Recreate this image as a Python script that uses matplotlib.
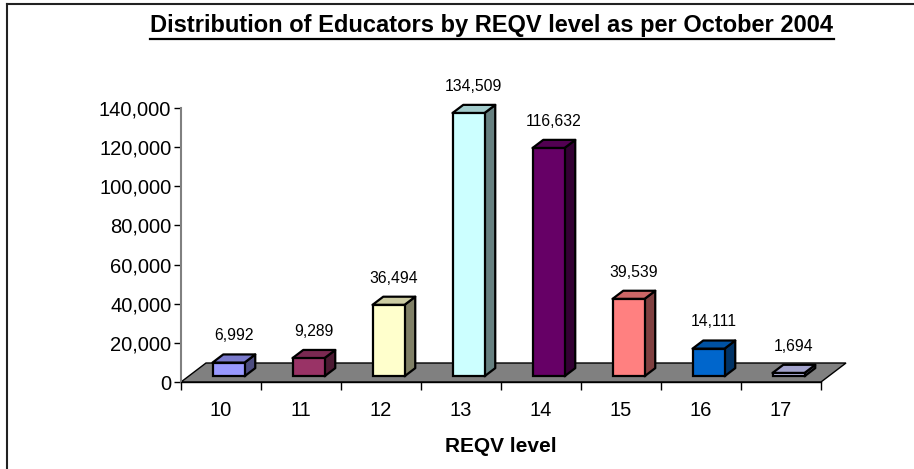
import numpy as np
import matplotlib
matplotlib.use("Agg")
import matplotlib.pyplot as plt
from matplotlib.patches import Polygon
from matplotlib.lines import Line2D
from matplotlib.ticker import FuncFormatter

# data
levels = ["10", "11", "12", "13", "14", "15", "16", "17"]
educators = [6992, 9289, 36494, 134509, 116632, 39539, 14111, 1694]
front_colors = ["#9999FF", "#993366", "#FFFFCC", "#CCFFFF",
                "#660066", "#FF8080", "#0066CC", "#CCCCFF"]

plt.rcParams['font.family'] = ['Liberation Sans', 'DejaVu Sans']

W, H = 914, 469
fig = plt.figure(figsize=(W / 100, H / 100), dpi=100)

# plot area in pixels (front plane of the 3d box)
left_px, right_px, top_px, bottom_px = 181, 821, 108, 382
ax = fig.add_axes([left_px / W, 1 - bottom_px / H,
                   (right_px - left_px) / W, (bottom_px - top_px) / H])
ymax = 140000
n = len(levels)
ax.set_xlim(0, n)
ax.set_ylim(0, ymax)

# depth of the floor, in pixels, turned into data units
depth_x_px, depth_y_px = 25, 19
DX = depth_x_px / ((right_px - left_px) / n)
DY = depth_y_px * ymax / (bottom_px - top_px)


def proj(x, v, d):
    return (x + d * DX, v + d * DY)


def shade(c, f):
    r, g, b = matplotlib.colors.to_rgb(c)
    return (r * f, g * f, b * f)


# floor
floor = Polygon([proj(0, 0, 0), proj(n, 0, 0), proj(n, 0, 1), proj(0, 0, 1)],
                closed=True, facecolor="#808080", edgecolor="black",
                lw=1, clip_on=False, zorder=1)
ax.add_patch(floor)

d0, d1 = 0.30, 0.73   # front / back depth of the bars
bw = 0.4
x_idx = np.arange(n)
ax.bar(x_idx + 0.5 - bw / 2 + d0 * DX, educators, width=bw, bottom=d0 * DY,
       align="edge", color=front_colors, edgecolor="black", lw=1.6,
       zorder=3, clip_on=False)

for i, (v, c) in enumerate(zip(educators, front_colors)):
    x0, x1 = i + 0.5 - bw / 2, i + 0.5 + bw / 2
    top = Polygon([proj(x0, v, d0), proj(x1, v, d0), proj(x1, v, d1), proj(x0, v, d1)],
                  closed=True, facecolor=shade(c, 0.8), edgecolor="black",
                  lw=1.6, joinstyle="round", clip_on=False, zorder=2)
    side = Polygon([proj(x1, 0, d0), proj(x1, v, d0), proj(x1, v, d1), proj(x1, 0, d1)],
                   closed=True, facecolor=shade(c, 0.5), edgecolor="black",
                   lw=1.6, joinstyle="round", clip_on=False, zorder=2)
    ax.add_patch(side)
    ax.add_patch(top)
    ax.annotate(f"{v:,}", xy=(i + 0.5 + (d0 + d1) / 2 * DX, v + d1 * DY),
                xytext=(0, 8), textcoords="offset points",
                ha="center", va="bottom", fontsize=11.3,
                annotation_clip=False)

# axes styling
for s in ["top", "right"]:
    ax.spines[s].set_visible(False)
ax.spines["left"].set_color("#808080")
ax.spines["left"].set_linewidth(1.5)
ax.spines["bottom"].set_color("black")
ax.spines["bottom"].set_linewidth(1)
ax.set_facecolor("none")

ax.set_yticks(np.arange(0, ymax + 1, 20000))
ax.yaxis.set_major_formatter(FuncFormatter(lambda v, p: f"{v:,.0f}"))
ax.tick_params(axis="y", direction="out", length=5, width=1, color="black",
               labelsize=14.5, pad=2)

ax.set_xticks(np.arange(0, n + 1))
ax.set_xticklabels([])
ax.set_xticks(x_idx + 0.5, minor=True)
ax.set_xticklabels(levels, minor=True)
ax.tick_params(axis="x", which="major", direction="out", length=6, width=1)
ax.tick_params(axis="x", which="minor", length=0, labelsize=14.5, pad=14)
ax.set_xlabel("REQV level", fontsize=15, fontweight="bold", labelpad=12)

# title with underline
title = fig.text(492 / W, 1 - 32.3 / H,
                 "Distribution of Educators by REQV level as per October 2004",
                 ha="center", va="baseline", fontsize=17, fontweight="bold")
fig.canvas.draw()
bb = title.get_window_extent().transformed(fig.transFigure.inverted())
uy = 1 - 38.8 / H
fig.add_artist(Line2D([bb.x0, bb.x1], [uy, uy], color="black", lw=1.6))

# outer frame (top and left edges)
fy = 1 - 4.5 / H
fx = 7 / W
fig.add_artist(Line2D([fx, 1], [fy, fy], color="#222222", lw=1.5))
fig.add_artist(Line2D([fx, fx], [0, fy], color="#222222", lw=1.5))

fig.savefig("out.png", dpi=100)
